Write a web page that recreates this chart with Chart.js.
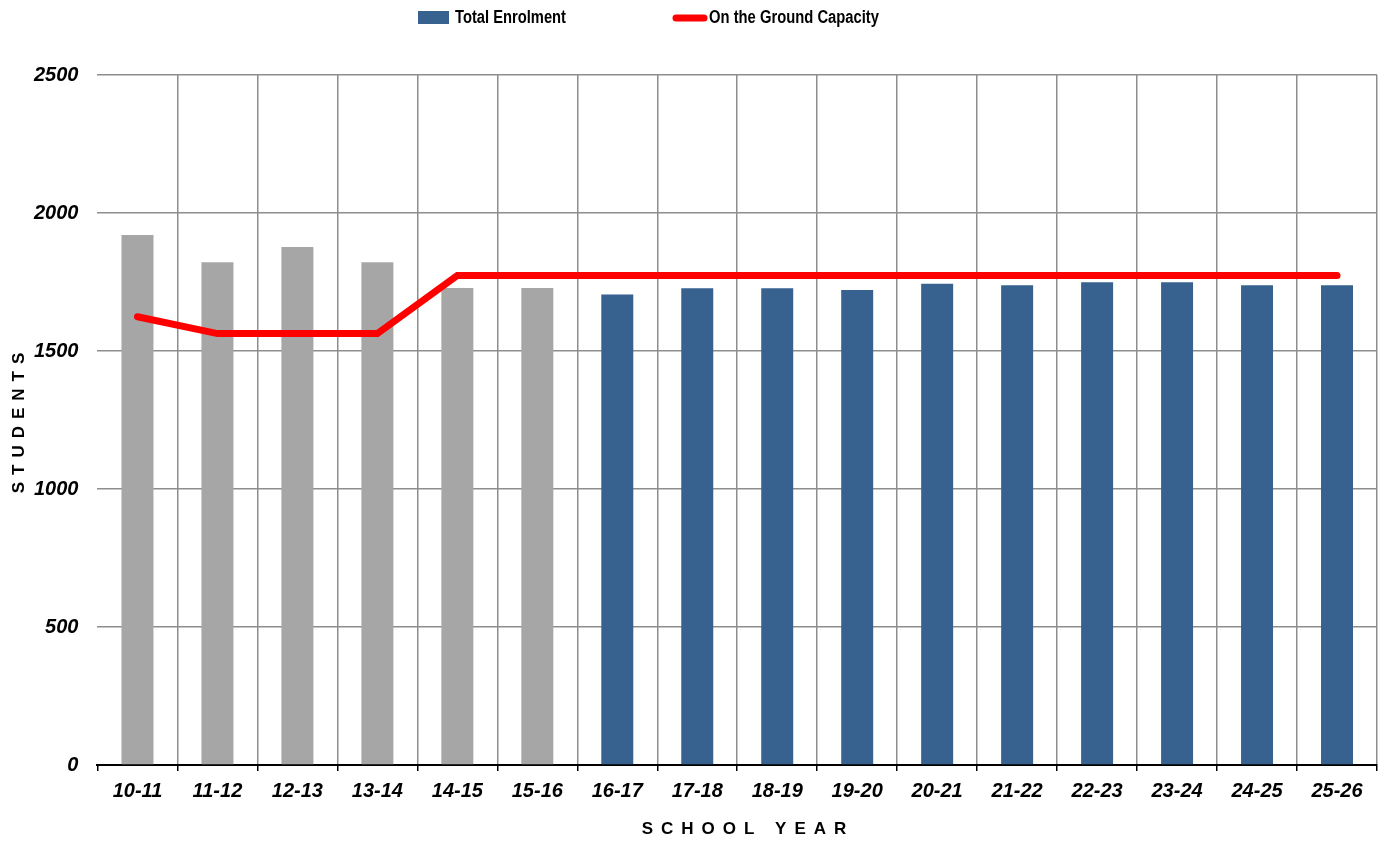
<!DOCTYPE html>
<html>
<head>
<meta charset="utf-8">
<script src="https://cdn.jsdelivr.net/npm/chart.js@4"></script>
<style>
  html, body { margin: 0; padding: 0; background: #fff; }
  #wrap { width: 1384px; height: 842px; position: relative; }
</style>
</head>
<body>
<div id="wrap"><canvas id="enrolmentChart"></canvas></div>
<script>
const schoolYears = ['10-11', '11-12', '12-13', '13-14', '14-15', '15-16', '16-17', '17-18',
  '18-19', '19-20', '20-21', '21-22', '22-23', '23-24', '24-25', '25-26'];
const totalEnrolment = [1920, 1822, 1877, 1822, 1728, 1728, 1705, 1727,
  1727, 1721, 1744, 1738, 1749, 1749, 1738, 1738];
const groundCapacity = [1624, 1563, 1563, 1563, 1774, 1774, 1774, 1774,
  1774, 1774, 1774, 1774, 1774, 1774, 1774, 1774];
const actualYears = 6; // first years are actuals (grey), rest projected (blue)
const yTicks = [0, 500, 1000, 1500, 2000, 2500];

const BLUE = '#37618F';
const GREY = '#A6A6A6';
const RED = '#FF0000';
const GRID = '#8E8E8E';

const barColors = totalEnrolment.map((v, i) => (i < actualYears ? GREY : BLUE));

// draw text with spaced letters, centered on x
function spacedText(ctx, text, x, y, spacing) {
  const chars = text.split('');
  const widths = chars.map((c) => ctx.measureText(c).width);
  const total = widths.reduce((a, b) => a + b, 0) + spacing * (chars.length - 1);
  let cx = x - total / 2;
  ctx.textAlign = 'left';
  chars.forEach((c, i) => {
    ctx.fillText(c, cx, y);
    cx += widths[i] + spacing;
  });
}

const decorations = {
  id: 'decorations',
  afterDraw(chart) {
    const ctx = chart.ctx;
    ctx.save();

    // legend
    ctx.fillStyle = BLUE;
    ctx.fillRect(418, 11, 31, 13);
    ctx.strokeStyle = RED;
    ctx.lineWidth = 7;
    ctx.lineCap = 'round';
    ctx.beginPath();
    ctx.moveTo(676, 18);
    ctx.lineTo(704, 18);
    ctx.stroke();

    ctx.fillStyle = '#000';
    ctx.font = 'bold 18px "Liberation Sans", Arial, sans-serif';
    ctx.textBaseline = 'middle';
    ctx.textAlign = 'left';
    ctx.fillText('Total Enrolment', 455, 18, 111);
    ctx.fillText('On the Ground Capacity', 709, 18, 170);

    // axis titles
    ctx.font = 'bold 17px "Liberation Sans", Arial, sans-serif';
    spacedText(ctx, 'SCHOOL YEAR', 744, 829, 8);

    ctx.translate(19, 423);
    ctx.rotate(-Math.PI / 2);
    spacedText(ctx, 'STUDENTS', 0, 0, 7);

    ctx.restore();
  }
};

const ctx = document.getElementById('enrolmentChart').getContext('2d');

new Chart(ctx, {
  type: 'bar',
  data: {
    labels: schoolYears,
    datasets: [
      {
        type: 'line',
        label: 'On the Ground Capacity',
        data: groundCapacity,
        borderColor: RED,
        borderWidth: 7,
        borderCapStyle: 'round',
        pointRadius: 0,
        pointHoverRadius: 0,
        tension: 0,
        order: 0
      },
      {
        label: 'Total Enrolment',
        data: totalEnrolment,
        backgroundColor: barColors,
        borderWidth: 0,
        categoryPercentage: 1,
        barPercentage: 0.4,
        order: 1
      }
    ]
  },
  options: {
    responsive: true,
    maintainAspectRatio: false,
    animation: false,
    layout: {
      padding: { top: 75, left: 15, right: 7, bottom: 31 }
    },
    plugins: {
      legend: { display: false },
      tooltip: { enabled: false }
    },
    scales: {
      x: {
        offset: true,
        grid: {
          offset: true,
          color: (c) => (c.index === 0 ? 'rgba(0,0,0,0)' : GRID),
          lineWidth: 1.5,
          tickColor: '#000',
          tickLength: 6
        },
        border: { display: true, color: '#000', width: 2 },
        ticks: {
          color: '#000',
          padding: 8,
          maxRotation: 0,
          font: { family: '"Liberation Sans", Arial, sans-serif', size: 20, weight: 'bold', style: 'italic' }
        }
      },
      y: {
        min: 0,
        max: 2500,
        afterBuildTicks(scale) {
          scale.ticks = yTicks.map((v) => ({ value: v }));
        },
        grid: {
          color: GRID,
          lineWidth: 1.5,
          drawTicks: false
        },
        border: { display: false },
        ticks: {
          color: '#000',
          padding: 19,
          callback: (v) => String(v),
          font: { family: '"Liberation Sans", Arial, sans-serif', size: 20, weight: 'bold', style: 'italic' }
        }
      }
    }
  },
  plugins: [decorations]
});
</script>
</body>
</html>
